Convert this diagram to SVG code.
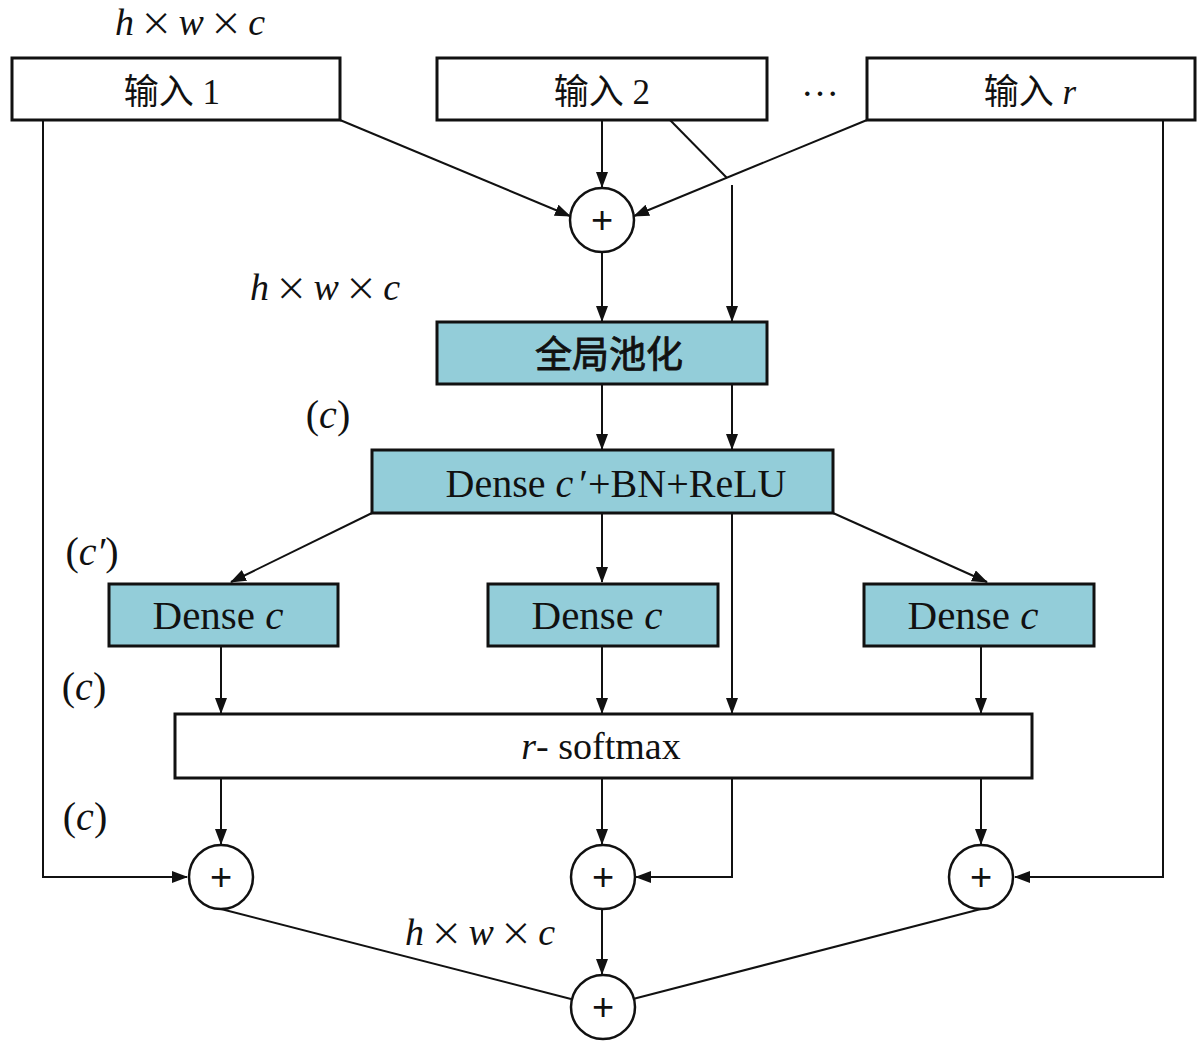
<svg xmlns="http://www.w3.org/2000/svg" width="1200" height="1044" viewBox="0 0 1200 1044">
<style>
.box{fill:#fff;stroke:#111;stroke-width:3}
.blue{fill:#93CDD9;stroke:#111;stroke-width:3}
.circ{fill:#fff;stroke:#111;stroke-width:2.5}
.ln{fill:none;stroke:#111;stroke-width:2}
.arr{fill:none;stroke:#111;stroke-width:2;marker-end:url(#ah)}
.t{font-family:"Liberation Serif","Noto Sans CJK SC",serif;font-size:38px;fill:#111;text-anchor:middle}
.cn{font-family:"Liberation Serif","Noto Sans CJK SC",serif;font-size:35px;fill:#111;text-anchor:middle}
.it{font-style:italic}
.x{font-style:normal;font-family:"Noto Sans CJK SC",sans-serif;font-size:32px}
.plus{font-family:"Liberation Sans",sans-serif;font-size:38px;fill:#111;text-anchor:middle}
</style>
<defs>
<marker id="ah" markerUnits="userSpaceOnUse" markerWidth="16" markerHeight="12" refX="15" refY="6" orient="auto">
<path d="M0,0 L16,6 L0,12 Z" fill="#111"/>
</marker>
</defs>

<g id="connectors">
<line class="arr" x1="602" y1="120" x2="602" y2="187"/>
<line class="arr" x1="340" y1="120" x2="570" y2="216"/>
<line class="arr" x1="867" y1="120" x2="634" y2="216"/>
<line class="ln" x1="670" y1="120" x2="727" y2="178"/>
<line class="arr" x1="732" y1="185" x2="732" y2="321"/>
<line class="arr" x1="602" y1="252" x2="602" y2="321"/>
<line class="arr" x1="602" y1="385" x2="602" y2="449"/>
<line class="arr" x1="732" y1="385" x2="732" y2="449"/>
<line class="arr" x1="372" y1="513" x2="231" y2="582"/>
<line class="arr" x1="602" y1="513" x2="602" y2="582"/>
<line class="arr" x1="833" y1="513" x2="987" y2="582"/>
<line class="arr" x1="732" y1="513" x2="732" y2="713"/>
<line class="arr" x1="221" y1="647" x2="221" y2="713"/>
<line class="arr" x1="602" y1="647" x2="602" y2="713"/>
<line class="arr" x1="981" y1="647" x2="981" y2="713"/>
<line class="arr" x1="221" y1="779" x2="221" y2="844"/>
<line class="arr" x1="602" y1="779" x2="602" y2="844"/>
<line class="arr" x1="981" y1="779" x2="981" y2="844"/>
<polyline class="arr" points="732,779 732,877 636,877"/>
<polyline class="arr" points="43,120 43,877 187,877"/>
<polyline class="arr" points="1163,120 1163,877 1015,877"/>
<line class="arr" x1="602" y1="909" x2="602" y2="974"/>
<line class="ln" x1="221" y1="909" x2="571" y2="999"/>
<line class="ln" x1="981" y1="909" x2="633" y2="999"/>
</g>

<g id="input1">
<rect class="box" x="12" y="58" width="328" height="62"/>
<text class="cn" x="172" y="104">输入 1</text>
</g>
<g id="input2">
<rect class="box" x="437" y="58" width="330" height="62"/>
<text class="cn" x="602" y="104">输入 2</text>
</g>
<g id="inputr">
<rect class="box" x="867" y="58" width="328" height="62"/>
<text class="cn" x="1030" y="104">输入 <tspan class="it">r</tspan></text>
</g>
<text class="t" x="820" y="96">…</text>

<g id="sum-top">
<circle class="circ" cx="602" cy="220" r="32"/>
<text class="plus" x="602" y="233">+</text>
</g>

<g id="pool">
<rect class="blue" x="437" y="322" width="330" height="62"/>
<text class="cn" x="609" y="368" style="font-size:37px;stroke:#111;stroke-width:0.8">全局池化</text>
</g>

<g id="dense-cprime">
<rect class="blue" x="372" y="450" width="461" height="63"/>
<text class="t" x="616" y="497" style="font-size:40px">Dense <tspan class="it">c</tspan> <tspan dx="-4">′</tspan>+BN+ReLU</text>
</g>

<g id="dense-c1">
<rect class="blue" x="109" y="584" width="229" height="62"/>
<text class="t" x="218" y="629" style="font-size:41px">Dense <tspan class="it">c</tspan></text>
</g>
<g id="dense-c2">
<rect class="blue" x="488" y="584" width="230" height="62"/>
<text class="t" x="597" y="629" style="font-size:41px">Dense <tspan class="it">c</tspan></text>
</g>
<g id="dense-c3">
<rect class="blue" x="864" y="584" width="230" height="62"/>
<text class="t" x="973" y="629" style="font-size:41px">Dense <tspan class="it">c</tspan></text>
</g>

<g id="softmax">
<rect class="box" x="175" y="714" width="857" height="64"/>
<text class="t" x="601" y="759"><tspan class="it">r</tspan>- softmax</text>
</g>

<g id="sum1">
<circle class="circ" cx="221" cy="877" r="32"/>
<text class="plus" x="221" y="890">+</text>
</g>
<g id="sum2">
<circle class="circ" cx="603" cy="877" r="32"/>
<text class="plus" x="603" y="890">+</text>
</g>
<g id="sum3">
<circle class="circ" cx="981" cy="877" r="32"/>
<text class="plus" x="981" y="890">+</text>
</g>
<g id="sum-final">
<circle class="circ" cx="603" cy="1007" r="32"/>
<text class="plus" x="603" y="1020">+</text>
</g>

<g id="labels">
<text class="t it" x="115" y="35" textLength="150" lengthAdjust="spacing" style="text-anchor:start">h<tspan class="x">×</tspan>w<tspan class="x">×</tspan>c</text>
<text class="t it" x="250" y="300" textLength="150" lengthAdjust="spacing" style="text-anchor:start">h<tspan class="x">×</tspan>w<tspan class="x">×</tspan>c</text>
<text class="t it" x="405" y="945" textLength="150" lengthAdjust="spacing" style="text-anchor:start">h<tspan class="x">×</tspan>w<tspan class="x">×</tspan>c</text>
<text class="t" x="328" y="428" style="font-size:40px">(<tspan class="it">c</tspan>)</text>
<text class="t" x="92" y="565" style="font-size:40px">(<tspan class="it">c′</tspan>)</text>
<text class="t" x="84" y="700" style="font-size:40px">(<tspan class="it">c</tspan>)</text>
<text class="t" x="85" y="830" style="font-size:40px">(<tspan class="it">c</tspan>)</text>
</g>
</svg>
